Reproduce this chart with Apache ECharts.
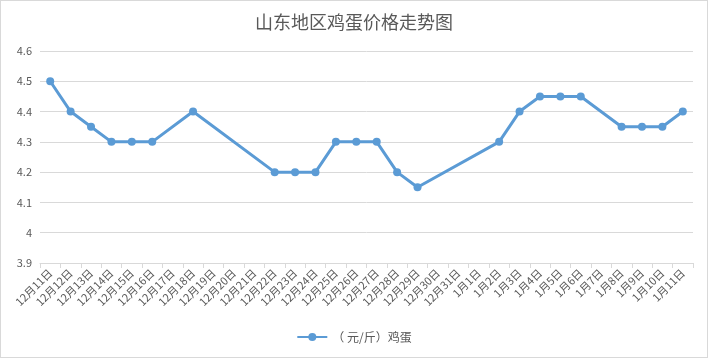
<!DOCTYPE html>
<html>
<head>
<meta charset="utf-8">
<script src="https://cdn.jsdelivr.net/npm/echarts@6/dist/echarts.min.js"></script>
<style>
html,body{margin:0;padding:0;background:#fff;}
#c{width:706px;height:356px;border:1px solid #d9d9d9;}
</style>
</head>
<body>
<div id="c"></div>
<script>
const categories = ['12月11日','12月12日','12月13日','12月14日','12月15日','12月16日','12月17日','12月18日','12月19日','12月20日','12月21日','12月22日','12月23日','12月24日','12月25日','12月26日','12月27日','12月28日','12月29日','12月30日','12月31日','1月1日','1月2日','1月3日','1月4日','1月5日','1月6日','1月7日','1月8日','1月9日','1月10日','1月11日'];
const eggPrice = [4.5,4.4,4.35,4.3,4.3,4.3,null,4.4,null,null,null,4.2,4.2,4.2,4.3,4.3,4.3,4.2,4.15,null,null,null,4.3,4.4,4.45,4.45,4.45,null,4.35,4.35,4.35,4.4];
const seriesName = '（ 元/斤）鸡蛋';
const titleText = '山东地区鸡蛋价格走势图';
const yMin = 3.9, yMax = 4.6, yStep = 0.1;

const chart = echarts.init(document.getElementById('c'));
const font = '"Noto Sans CJK SC", "Microsoft YaHei", sans-serif';
chart.setOption({
  animation: false,
  textStyle: {fontFamily: font},
  title: {
    text: titleText, left: 'center', top: 7,
    textStyle: {fontSize: 18, fontWeight: 'normal', color: '#595959', fontFamily: font}
  },
  legend: {
    bottom: 9, left: 'center', itemWidth: 30, itemHeight: 10, itemGap: 6,
    textStyle: {fontSize: 12, color: '#595959', fontFamily: font},
    data: [seriesName]
  },
  grid: {left: 39, right: 14, top: 50, bottom: 94},
  xAxis: {
    type: 'category', data: categories, boundaryGap: true,
    axisLine: {lineStyle: {color: '#d9d9d9'}},
    axisTick: {show: true, length: 5, lineStyle: {color: '#d9d9d9'}},
    axisLabel: {rotate: 45, interval: 0, fontSize: 11, color: '#595959', margin: 8, fontFamily: font}
  },
  yAxis: {
    type: 'value', min: yMin, max: yMax, interval: yStep,
    axisLine: {show: false}, axisTick: {show: false},
    axisLabel: {fontSize: 11, color: '#595959', margin: 8, fontFamily: font,
      formatter: v => String(Math.round(v*10)/10)},
    splitLine: {lineStyle: {color: '#d9d9d9'}}
  },
  series: [{
    name: seriesName, type: 'line', data: eggPrice, connectNulls: true,
    symbol: 'circle', symbolSize: 8,
    lineStyle: {color: '#5b9bd5', width: 3},
    itemStyle: {color: '#5b9bd5'}
  }]
});
</script>
</body>
</html>
